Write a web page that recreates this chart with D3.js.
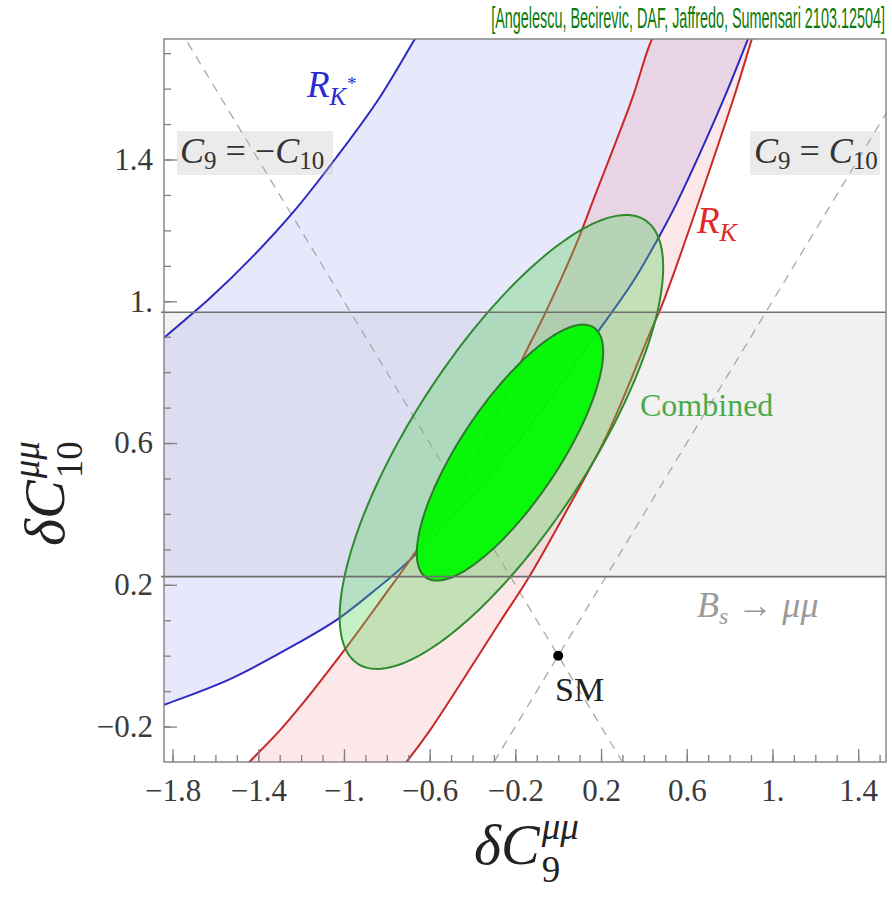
<!DOCTYPE html>
<html><head><meta charset="utf-8">
<script src="https://cdn.jsdelivr.net/npm/d3@7"></script>
<style>body{margin:0;background:#fff}svg{display:block}</style>
</head><body>
<svg id="chart" width="892" height="898"></svg>
<script>
// ---------- data ----------
const xDomain = [-1.84, 1.53];
const yDomain = [-0.3, 1.74];
const xMajorTicks = [-1.8, -1.4, -1.0, -0.6, -0.2, 0.2, 0.6, 1.0, 1.4];
const xMajorLabels = ["\u22121.8", "\u22121.4", "\u22121.", "\u22120.6", "\u22120.2", "0.2", "0.6", "1.", "1.4"];
const yMajorTicks = [-0.2, 0.2, 0.6, 1.0, 1.4];
const yMajorLabels = ["\u22120.2", "0.2", "0.6", "1.", "1.4"];

// R_K* band boundaries (dC9, dC10)
const rKstarUpper = [[-1.9,0.866],[-1.84,0.897],[-1.625,1.009],[-1.423,1.128],[-1.236,1.252],[-1.034,1.407],[-0.841,1.568],[-0.669,1.740],[-0.640,1.768]];
const rKstarLower = [[-1.9,-0.153],[-1.84,-0.139],[-1.532,-0.066],[-1.205,0.039],[-1.034,0.101],[-0.863,0.181],[-0.692,0.270],[-0.258,0.552],[0.180,0.910],[0.351,1.057],[0.475,1.187],[0.553,1.277],[0.771,1.568],[0.886,1.740],[0.933,1.811]];
// R_K band boundaries
const rKLeft = [[-1.485,-0.328],[-1.443,-0.301],[-1.298,-0.210],[-1.205,-0.144],[-0.987,0.025],[-0.816,0.166],[-0.692,0.270],[-0.429,0.510],[-0.170,0.834],[-0.054,0.975],[0.086,1.164],[0.164,1.286],[0.343,1.568],[0.438,1.740],[0.477,1.774]];
const rKRight = [[-0.748,-0.328],[-0.710,-0.301],[-0.598,-0.210],[-0.472,-0.094],[-0.272,0.095],[-0.136,0.222],[0.041,0.411],[0.232,0.628],[0.428,0.910],[0.494,1.004],[0.816,1.568],[0.904,1.740],[0.923,1.774]];
// Bs -> mu mu band in dC10
const bsBand = [0.223, 0.969];
// Combined fit ellipses: centre, half-extent in x and y, correlation
const outerEllipse = {cx: -0.265, cy: 0.603, sx: 0.755, sy: 0.6405, rho: 0.770};
const innerEllipse = {cx: -0.225, cy: 0.573, sx: 0.435, sy: 0.3612, rho: 0.785};
const smPoint = [0, 0];

// ---------- layout ----------
const L = 164, R = 886, T = 39, B = 762;
const svg = d3.select("#chart");
const x = d3.scaleLinear().domain(xDomain).range([L, R]);
const y = d3.scaleLinear().domain(yDomain).range([B, T]);
const serif = "'Liberation Serif','DejaVu Serif',serif";

svg.append("defs").append("clipPath").attr("id","plotclip")
  .append("rect").attr("x",L).attr("y",T).attr("width",R-L).attr("height",B-T);

const plot = svg.append("g").attr("clip-path","url(#plotclip)");
const line = d3.line().x(d=>x(d[0])).y(d=>y(d[1])).curve(d3.curveCatmullRom.alpha(0.5));

// Bs band fill
plot.append("rect").attr("x",L).attr("width",R-L)
  .attr("y",y(bsBand[1])).attr("height",y(bsBand[0])-y(bsBand[1]))
  .attr("fill","rgba(0,0,0,0.055)");

// band fills
function bandPath(a,b){
  const p1 = line(a);
  const p2 = line(b.slice().reverse());
  return p1 + "L" + p2.slice(1) + "Z";
}
plot.append("path").attr("d",bandPath(rKstarUpper,rKstarLower)).attr("fill","rgb(150,150,240)").attr("fill-opacity",0.22);
plot.append("path").attr("d",bandPath(rKLeft,rKRight)).attr("fill","rgb(240,100,110)").attr("fill-opacity",0.15);

// dashed directions
const dashLines = [[[-2,2],[2,-2]],[[-2,-2],[2,2]]];
dashLines.forEach(dl=>{
  plot.append("line").attr("x1",x(dl[0][0])).attr("y1",y(dl[0][1])).attr("x2",x(dl[1][0])).attr("y2",y(dl[1][1]))
    .attr("stroke","#a8a8a8").attr("stroke-width",1.3).attr("stroke-dasharray","9,7");
});

// Bs lines
bsBand.forEach(v=>{
  svg.append("line").attr("x1",L-3).attr("x2",R).attr("y1",y(v)).attr("y2",y(v))
    .attr("stroke","#707070").attr("stroke-width",1.6);
});

// band lines
[rKstarUpper,rKstarLower].forEach(c=>plot.append("path").attr("d",line(c)).attr("fill","none").attr("stroke","#2a2ac0").attr("stroke-width",2));
[rKLeft,rKRight].forEach(c=>plot.append("path").attr("d",line(c)).attr("fill","none").attr("stroke","#c82828").attr("stroke-width",2));

// ellipses
function ellipsePts(e){
  const pts=[]; const s=Math.sqrt(1-e.rho*e.rho);
  for(let i=0;i<=180;i++){const t=i/180*2*Math.PI;
    pts.push([e.cx+e.sx*Math.cos(t), e.cy+e.sy*(e.rho*Math.cos(t)+s*Math.sin(t))]);}
  return pts;
}
const lin = d3.line().x(d=>x(d[0])).y(d=>y(d[1]));
plot.append("path").attr("d",lin(ellipsePts(outerEllipse))+"Z").attr("fill","rgb(90,210,90)").attr("fill-opacity",0.35)
  .attr("stroke","#2d8a2d").attr("stroke-width",2);
plot.append("path").attr("d",lin(ellipsePts(innerEllipse))+"Z").attr("fill","rgb(0,250,0)").attr("fill-opacity",0.95)
  .attr("stroke","#2d7a2d").attr("stroke-width",2);

// SM point
plot.append("circle").attr("cx",x(smPoint[0])).attr("cy",y(smPoint[1])).attr("r",5).attr("fill","#000");

// frame
svg.append("rect").attr("x",L).attr("y",T).attr("width",R-L).attr("height",B-T)
  .attr("fill","none").attr("stroke","#808080").attr("stroke-width",1.4);

// axes
const minorX = d3.range(-18,16).map(i=>i/10);
const minorY = d3.range(-2,18).map(i=>i/10);
function styleAxis(g){ g.select(".domain").remove(); g.selectAll("line").attr("stroke","#808080").attr("stroke-width",1.3); }
svg.append("g").attr("transform",`translate(0,${B})`)
  .call(d3.axisBottom(x).tickValues(minorX).tickSize(-7).tickFormat(""))
  .call(styleAxis);
svg.append("g").attr("transform",`translate(${L},0)`)
  .call(d3.axisLeft(y).tickValues(minorY).tickSize(-7).tickFormat(""))
  .call(styleAxis);
const xa = svg.append("g").attr("transform",`translate(0,${B})`)
  .call(d3.axisBottom(x).tickValues(xMajorTicks).tickSize(-13).tickPadding(17).tickFormat((d,i)=>xMajorLabels[i]))
  .call(styleAxis);
const ya = svg.append("g").attr("transform",`translate(${L},0)`)
  .call(d3.axisLeft(y).tickValues(yMajorTicks).tickSize(-13).tickPadding(11).tickFormat((d,i)=>yMajorLabels[i]))
  .call(styleAxis);
[xa,ya].forEach(a=>a.selectAll("text").attr("font-family",serif).attr("font-size",31).attr("fill","#3a3a3a"));

// ---------- labels ----------
function boxLabel(x0,y0,w,h){
  svg.append("rect").attr("x",x0).attr("y",y0).attr("width",w).attr("height",h).attr("fill","rgba(190,190,190,0.3)");
}
boxLabel(177,131,156,44);
boxLabel(750,131,130,44);

function cEq(xp, yp, neg){
  const t = svg.append("text").attr("x",xp).attr("y",yp).attr("font-family",serif).attr("font-size",36).attr("fill","#333");
  t.append("tspan").attr("font-style","italic").text("C");
  t.append("tspan").attr("font-size",25).attr("dy",6).text("9");
  t.append("tspan").attr("dy",-6).text(neg ? " = \u2212" : " = ");
  t.append("tspan").attr("font-style","italic").text("C");
  t.append("tspan").attr("font-size",25).attr("dy",6).text("10");
}
cEq(180,163,true);
cEq(754,163,false);

// R_K*
const rks = svg.append("text").attr("x",307).attr("y",97).attr("font-family",serif).attr("font-size",37).attr("fill","#2a2ad0").attr("font-style","italic");
rks.append("tspan").text("R");
rks.append("tspan").attr("font-size",25).attr("dy",8).text("K");
rks.append("tspan").attr("font-size",19).attr("dy",-15).text("*");
// R_K
const rk = svg.append("text").attr("x",697).attr("y",233).attr("font-family",serif).attr("font-size",37).attr("fill","#e02828").attr("font-style","italic");
rk.append("tspan").text("R");
rk.append("tspan").attr("font-size",26).attr("dy",8).text("K");

svg.append("text").attr("x",640).attr("y",416).attr("font-family",serif).attr("font-size",32).attr("fill","#4aaa4a").text("Combined");

const bs = svg.append("text").attr("x",697).attr("y",617).attr("font-family",serif).attr("font-size",36).attr("fill","#9a9a9a");
bs.append("tspan").attr("font-style","italic").text("B");
bs.append("tspan").attr("font-style","italic").attr("font-size",24).attr("dy",7).text("s");
bs.append("tspan").attr("dy",-7).text(" \u2192 ");
bs.append("tspan").attr("font-style","italic").text("\u03bc\u03bc");

svg.append("text").attr("x",555).attr("y",701).attr("font-family",serif).attr("font-size",34).attr("fill","#222").text("SM");

// axis titles
function axisTitle(g, sub){
  const t = g.append("text").attr("font-family",serif).attr("font-size",58).attr("fill","#222");
  t.append("tspan").attr("font-style","italic").text("\u03b4C");
  const sp = t.append("tspan").attr("font-style","italic").attr("font-size",37).attr("dx",2).attr("dy",-25).text("\u03bc\u03bc");
  const w = sp.node().getComputedTextLength();
  t.append("tspan").attr("font-size",37).attr("dx",-w).attr("dy",43).text(sub);
  return t;
}
const gx = svg.append("g").attr("transform","translate(474,864)");
axisTitle(gx,"9");
const gy = svg.append("g").attr("transform","translate(64,546) rotate(-90)");
axisTitle(gy,"10");

// citation (narrow sans, fitted to the reference width by a horizontal scale)
const cg = svg.append("g");
const ct = cg.append("text").attr("x",0).attr("y",0).attr("text-anchor","end")
  .attr("font-family","'Liberation Sans',Arial,sans-serif").attr("font-size",29)
  .attr("fill","#0b7a0b")
  .text("[Angelescu, Becirevic, DAF, Jaffredo, Sumensari 2103.12504]");
const cw = ct.node().getComputedTextLength();
cg.attr("transform",`translate(885,28) scale(${394/cw},1)`);
</script>
</body></html>
